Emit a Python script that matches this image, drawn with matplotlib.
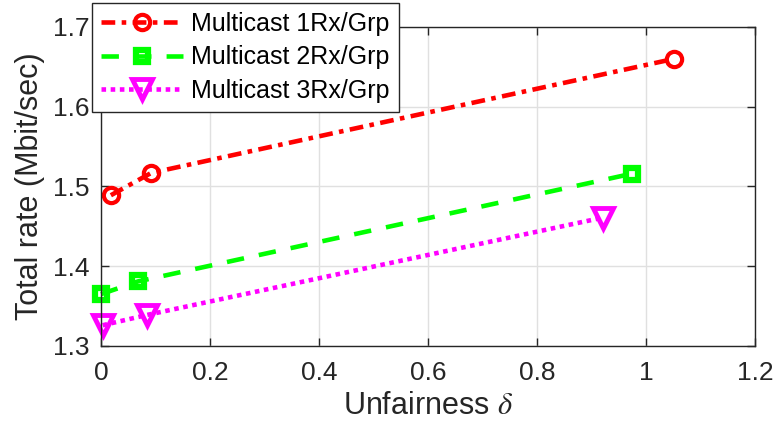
import numpy as np
import matplotlib
matplotlib.use('Agg')
import matplotlib.pyplot as plt

plt.rcParams['font.family'] = ['Liberation Sans', 'DejaVu Sans']
plt.rcParams['mathtext.fontset'] = 'stix'

# Unfairness vs total rate for each multicast group size
unfair_1rx = [0.018, 0.092, 1.051]
rate_1rx = [1.489, 1.517, 1.660]

unfair_2rx = [0.0, 0.068, 0.974]
rate_2rx = [1.365, 1.381, 1.516]

unfair_3rx = [0.003, 0.085, 0.921]
rate_3rx = [1.326, 1.339, 1.461]

labels = ['Multicast 1Rx/Grp', 'Multicast 2Rx/Grp', 'Multicast 3Rx/Grp']

fig = plt.figure(figsize=(7.79, 4.34), dpi=100)
ax = fig.add_axes([0.1297, 0.2028, 0.8395, 0.735])

l1, = ax.plot(unfair_1rx, rate_1rx, color=(1, 0, 0), lw=3.3, dashes=(3.0, 1.4, 1.0, 1.4),
              marker='o', ms=11, mew=3, mfc='none', label=labels[0])
l2, = ax.plot(unfair_2rx, rate_2rx, color=(0, 1, 0), lw=3.3, dashes=(3.8, 3.3),
              marker='s', ms=9, mew=4.5, mfc='none', label=labels[1])
l3, = ax.plot(unfair_3rx, rate_3rx, color=(1, 0, 1), lw=3.3, dashes=(1.0, 1.0),
              marker='v', ms=14, mew=3.5, mfc='none', label=labels[2])
for l in (l1, l2, l3):
    l.set_dash_capstyle('butt')
    l.set_clip_on(False)

ax.set_xlim(0, 1.2)
ax.set_ylim(1.3, 1.7)
ax.set_xticks(np.arange(0, 1.21, 0.2))
ax.set_yticks(np.arange(1.3, 1.71, 0.1))
ax.set_xticklabels(['0', '0.2', '0.4', '0.6', '0.8', '1', '1.2'])
ax.set_yticklabels(['1.3', '1.4', '1.5', '1.6', '1.7'])
ax.tick_params(direction='in', length=6, width=1, labelsize=19, colors='#262626',
               top=True, right=True)
ax.tick_params(axis='x', pad=11)
ax.tick_params(axis='y', pad=8)
ax.grid(True, color='#e0e0e0', linewidth=1)
ax.set_axisbelow(True)
for s in ax.spines.values():
    s.set_color('#262626')
    s.set_linewidth(1)

ax.set_xlabel(r'Unfairness $\delta$', fontsize=22, color='#262626', labelpad=4)
ax.set_ylabel('Total rate (Mbit/sec)', fontsize=22, color='#262626', labelpad=6)

leg = ax.legend(loc='upper left', bbox_to_anchor=(92 / 779, 1 - 3 / 434),
                bbox_transform=fig.transFigure, fontsize=18, handlelength=3.3,
                frameon=True, fancybox=False, framealpha=1, edgecolor='#262626',
                borderaxespad=0, borderpad=0.35, labelspacing=0.38, handletextpad=0.32)
leg.get_frame().set_linewidth(1)

fig.savefig('out.png', dpi=100)
